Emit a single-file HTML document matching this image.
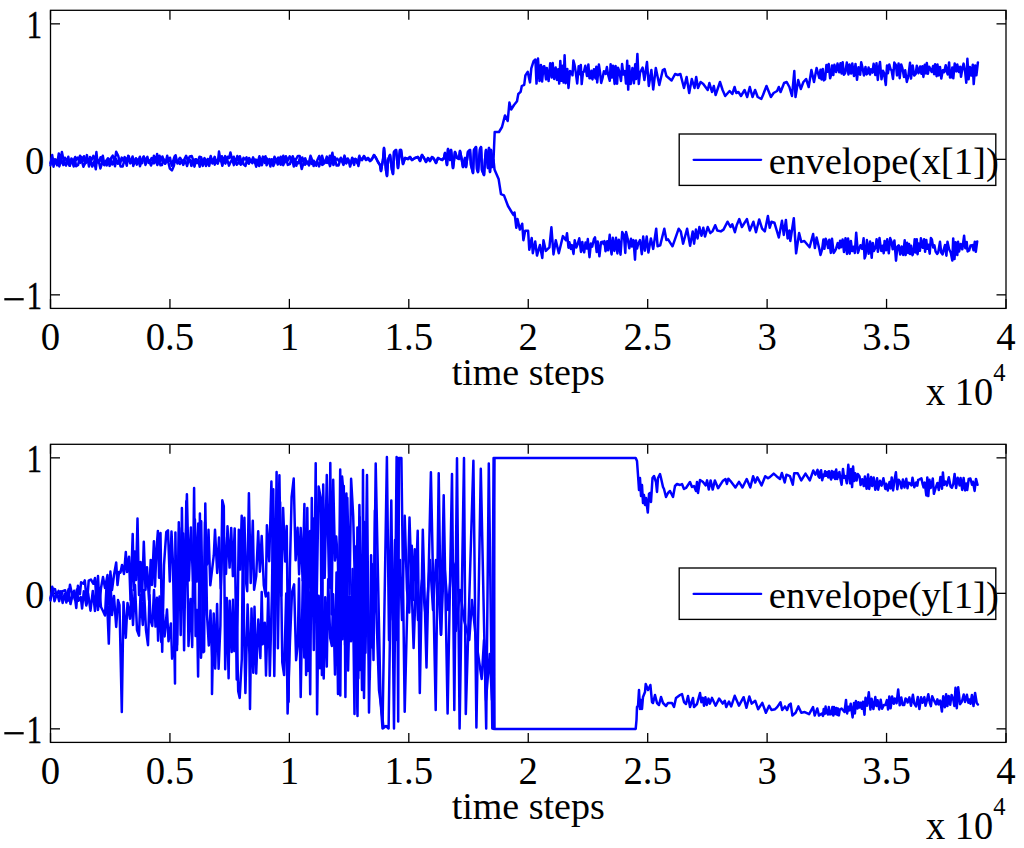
<!DOCTYPE html><html><head><meta charset="utf-8"><style>html,body{margin:0;padding:0;background:#fff;overflow:hidden}svg{display:block}</style></head><body>
<svg width="1024" height="848" viewBox="0 0 1024 848">
<rect width="1024" height="848" fill="#fff"/>
<rect x="50.5" y="10.3" width="955.5" height="298.09999999999997" fill="none" stroke="#000" stroke-width="1.3"/>
<line x1="50.50" y1="308.4" x2="50.50" y2="298.9" stroke="#000" stroke-width="1.3"/>
<line x1="50.50" y1="10.3" x2="50.50" y2="19.8" stroke="#000" stroke-width="1.3"/>
<text transform="translate(50.50,350.4) scale(1.02,1.06)" font-family="Liberation Serif" font-size="38" text-anchor="middle">0</text>
<line x1="169.94" y1="308.4" x2="169.94" y2="298.9" stroke="#000" stroke-width="1.3"/>
<line x1="169.94" y1="10.3" x2="169.94" y2="19.8" stroke="#000" stroke-width="1.3"/>
<text transform="translate(169.94,350.4) scale(1.02,1.06)" font-family="Liberation Serif" font-size="38" text-anchor="middle">0.5</text>
<line x1="289.38" y1="308.4" x2="289.38" y2="298.9" stroke="#000" stroke-width="1.3"/>
<line x1="289.38" y1="10.3" x2="289.38" y2="19.8" stroke="#000" stroke-width="1.3"/>
<text transform="translate(289.38,350.4) scale(1.02,1.06)" font-family="Liberation Serif" font-size="38" text-anchor="middle">1</text>
<line x1="408.81" y1="308.4" x2="408.81" y2="298.9" stroke="#000" stroke-width="1.3"/>
<line x1="408.81" y1="10.3" x2="408.81" y2="19.8" stroke="#000" stroke-width="1.3"/>
<text transform="translate(408.81,350.4) scale(1.02,1.06)" font-family="Liberation Serif" font-size="38" text-anchor="middle">1.5</text>
<line x1="528.25" y1="308.4" x2="528.25" y2="298.9" stroke="#000" stroke-width="1.3"/>
<line x1="528.25" y1="10.3" x2="528.25" y2="19.8" stroke="#000" stroke-width="1.3"/>
<text transform="translate(528.25,350.4) scale(1.02,1.06)" font-family="Liberation Serif" font-size="38" text-anchor="middle">2</text>
<line x1="647.69" y1="308.4" x2="647.69" y2="298.9" stroke="#000" stroke-width="1.3"/>
<line x1="647.69" y1="10.3" x2="647.69" y2="19.8" stroke="#000" stroke-width="1.3"/>
<text transform="translate(647.69,350.4) scale(1.02,1.06)" font-family="Liberation Serif" font-size="38" text-anchor="middle">2.5</text>
<line x1="767.12" y1="308.4" x2="767.12" y2="298.9" stroke="#000" stroke-width="1.3"/>
<line x1="767.12" y1="10.3" x2="767.12" y2="19.8" stroke="#000" stroke-width="1.3"/>
<text transform="translate(767.12,350.4) scale(1.02,1.06)" font-family="Liberation Serif" font-size="38" text-anchor="middle">3</text>
<line x1="886.56" y1="308.4" x2="886.56" y2="298.9" stroke="#000" stroke-width="1.3"/>
<line x1="886.56" y1="10.3" x2="886.56" y2="19.8" stroke="#000" stroke-width="1.3"/>
<text transform="translate(886.56,350.4) scale(1.02,1.06)" font-family="Liberation Serif" font-size="38" text-anchor="middle">3.5</text>
<line x1="1006.00" y1="308.4" x2="1006.00" y2="298.9" stroke="#000" stroke-width="1.3"/>
<line x1="1006.00" y1="10.3" x2="1006.00" y2="19.8" stroke="#000" stroke-width="1.3"/>
<text transform="translate(1006.00,350.4) scale(1.02,1.06)" font-family="Liberation Serif" font-size="38" text-anchor="middle">4</text>
<line x1="50.5" y1="294.85" x2="60.0" y2="294.85" stroke="#000" stroke-width="1.3"/>
<line x1="1006.0" y1="294.85" x2="996.5" y2="294.85" stroke="#000" stroke-width="1.3"/>
<rect x="4.3" y="298.1" width="19.4" height="2.3" fill="#000"/>
<text transform="translate(42,309.0) scale(0.8,1.04)" font-family="Liberation Serif" font-size="38" text-anchor="end" stroke="#000" stroke-width="0.5">1</text>
<line x1="50.5" y1="159.35" x2="60.0" y2="159.35" stroke="#000" stroke-width="1.3"/>
<line x1="1006.0" y1="159.35" x2="996.5" y2="159.35" stroke="#000" stroke-width="1.3"/>
<text transform="translate(44.5,173.9) scale(1.02,1.07)" font-family="Liberation Serif" font-size="38" text-anchor="end">0</text>
<line x1="50.5" y1="23.85" x2="60.0" y2="23.85" stroke="#000" stroke-width="1.3"/>
<line x1="1006.0" y1="23.85" x2="996.5" y2="23.85" stroke="#000" stroke-width="1.3"/>
<text transform="translate(42,38.1) scale(0.8,1.04)" font-family="Liberation Serif" font-size="38" text-anchor="end" stroke="#000" stroke-width="0.5">1</text>
<text x="528.2" y="384.9" font-family="Liberation Serif" font-size="38" text-anchor="middle">time steps</text>
<text transform="translate(926,405.1) scale(1.01,1.06)" font-family="Liberation Serif" font-size="38">x 10</text>
<text x="993.2" y="380.8" font-family="Liberation Serif" font-size="24.5">4</text>
<polyline points="50.5,163.1 52.1,157.3 53.2,159.9 55.1,159.5 56.4,163.4 57.5,162.2 58.8,153.4 60.4,161.0 61.9,151.9 63.7,160.8 64.9,157.7 67.0,161.7 68.3,156.8 69.9,165.7 71.4,158.4 73.2,161.6 75.2,157.0 76.2,160.0 77.9,157.5 80.1,162.9 81.4,157.0 82.9,161.1 84.0,156.2 85.8,163.0 87.4,159.0 88.6,162.0 90.0,157.0 91.6,159.9 93.3,155.9 95.2,161.1 96.4,152.1 97.5,162.4 98.8,162.1 100.6,157.2 101.7,161.6 102.8,155.8 104.5,165.2 106.4,160.7 108.0,158.2 109.7,161.0 111.3,157.7 112.7,155.6 114.7,161.3 116.2,151.8 118.2,155.7 120.2,163.5 121.7,157.6 123.2,160.8 124.6,157.1 126.6,159.8 128.8,156.2 130.5,163.1 132.6,156.5 133.9,162.7 135.9,158.2 137.9,161.5 139.9,156.7 141.1,162.2 142.2,163.2 143.7,156.7 145.3,161.0 147.4,156.9 148.7,162.9 150.5,160.3 151.6,158.1 152.8,160.7 153.9,155.8 156.0,161.2 157.1,153.9 158.5,162.3 159.6,155.8 160.8,160.9 162.4,156.5 164.1,161.3 165.4,163.5 167.2,155.7 168.6,161.3 170.0,157.7 171.7,165.7 173.4,160.2 174.7,156.2 175.9,162.0 178.0,160.7 180.0,157.7 182.1,161.2 184.1,159.9 186.1,155.8 187.9,160.7 189.7,156.5 191.8,156.1 193.8,161.8 195.2,159.3 196.8,160.1 198.0,161.1 199.5,156.7 201.1,157.1 202.9,162.8 204.5,158.1 206.6,163.3 207.7,158.9 208.9,162.9 210.7,156.0 212.6,162.3 214.7,156.8 216.0,162.2 217.8,162.7 219.0,151.6 220.7,161.1 221.9,156.2 223.8,161.8 225.2,156.1 226.6,160.5 227.8,156.8 229.2,158.0 230.4,152.4 232.4,160.9 233.8,156.8 235.7,163.0 237.3,156.0 238.7,161.2 239.9,156.3 241.8,163.5 243.5,157.8 245.1,159.6 246.5,157.4 248.1,162.5 249.1,157.9 251.1,162.0 253.1,157.4 254.5,160.7 255.9,159.5 257.4,163.2 259.4,156.3 261.2,162.5 262.9,156.6 264.9,162.9 266.4,158.0 268.0,160.6 269.6,159.1 271.1,161.5 272.7,163.4 274.5,156.7 276.5,161.1 278.2,157.6 279.4,162.5 280.7,156.7 282.0,162.9 283.3,155.7 284.3,163.3 285.9,156.2 287.6,160.7 289.7,156.3 291.3,160.6 292.7,156.3 294.6,161.3 296.2,158.8 297.9,155.9 299.7,156.1 301.1,163.1 302.3,157.4 303.5,161.0 305.2,158.2 306.9,163.3 308.8,163.1 310.5,155.8 312.4,160.6 313.6,166.1 315.2,163.1 316.3,165.8 317.4,159.9 319.2,156.0 321.0,163.5 322.1,155.7 323.8,162.2 325.2,161.7 326.8,156.6 328.6,162.8 329.8,155.8 330.9,160.3 332.4,152.7 333.6,161.6 334.6,157.0 335.8,159.9 337.1,158.6 339.1,161.3 340.8,157.7 342.9,162.3 344.5,155.6 346.3,162.1 347.7,158.5 348.8,161.5 350.8,162.5 352.2,157.7 353.8,160.6 355.2,158.9 357.3,163.3 359.4,155.8 360.0,158.0 362.0,160.0 364.0,156.0 366.0,160.0 368.0,158.0 370.0,161.0 372.0,159.0 374.0,155.0 376.0,158.0 378.0,162.0 380.0,165.0 381.0,171.0 382.0,165.0 383.0,160.0 384.0,148.0 386.0,170.0 387.0,176.0 388.0,160.0 390.0,155.0 392.0,170.0 393.0,174.0 394.0,152.0 396.0,150.0 398.0,168.0 400.0,150.0 401.0,150.0 403.0,164.0 405.0,158.0 408.0,159.0 410.0,157.0 412.0,160.0 415.0,158.0 418.0,157.0 420.0,161.0 422.0,155.0 424.0,158.0 426.0,162.0 428.0,158.0 430.0,161.0 432.0,157.0 434.0,159.0 436.0,163.0 438.0,158.0 440.0,159.0 442.0,160.0 444.0,158.0 445.0,153.0 447.0,165.0 448.0,149.0 450.0,160.0 451.0,150.0 453.0,168.0 455.0,152.0 457.0,158.0 459.0,159.0 460.0,151.0 462.0,161.0 463.0,167.0 465.0,158.0 466.0,167.0 468.0,152.0 470.0,150.0 471.0,165.0 473.0,173.0 474.0,150.0 476.0,147.0 477.0,169.0 478.0,172.0 480.0,149.0 481.0,147.0 482.0,170.0 484.0,175.0 485.0,160.0 486.0,150.0 488.0,168.0 489.0,148.0 490.0,172.0 491.0,150.0 492.0,167.0 493.5,160.0 494.7,132.0 498.0,132.0 499.0,132.0 502.0,127.0 505.0,115.4 507.7,121.0 509.4,102.5 511.2,109.5 514.0,105.0 517.0,101.3 518.3,94.0 520.6,91.9 521.8,86.0 524.2,84.8 525.4,75.4 527.7,71.8 530.0,82.4 531.3,68.3 533.6,61.2 535.4,59.5 536.5,83.6 538.0,58.6 539.5,81.0 540.9,64.9 542.1,81.6 543.5,66.5 544.3,66.2 546.0,79.4 546.8,67.9 548.6,81.1 550.2,63.3 551.7,77.5 552.7,63.1 554.1,79.0 555.7,67.5 556.9,79.9 558.2,69.2 559.2,83.6 560.3,60.9 561.6,80.8 562.7,65.7 563.6,82.6 564.6,55.3 565.7,83.2 567.3,68.9 568.5,88.0 570.0,71.1 571.5,72.0 572.5,75.3 573.4,60.6 574.5,64.6 575.7,71.9 577.2,83.5 578.7,66.2 579.8,74.2 580.8,64.9 581.7,84.1 583.0,72.1 583.9,71.8 585.3,65.7 587.0,76.0 588.4,64.5 589.5,78.3 590.4,78.1 591.4,70.8 592.5,79.4 593.9,69.3 595.4,78.4 596.3,66.8 597.2,82.5 598.9,64.6 600.1,72.9 601.2,82.9 602.5,78.2 603.9,71.2 605.6,73.9 606.9,67.1 608.1,74.6 609.8,80.8 610.6,64.2 611.9,77.6 613.0,65.7 614.6,83.9 615.6,66.1 617.1,83.8 618.0,67.7 619.3,71.5 621.0,81.0 622.1,64.1 623.4,74.6 624.9,71.1 626.0,83.6 627.2,60.8 628.2,89.6 629.2,66.0 630.7,84.1 632.4,68.1 633.9,83.3 635.2,64.3 636.0,79.1 637.4,53.9 638.8,83.9 640.0,72.8 642.6,67.6 644.4,80.0 647.0,62.0 648.8,86.0 651.4,70.0 653.2,89.5 655.8,68.0 659.3,85.0 662.8,70.0 664.6,69.0 666.4,76.0 671.6,80.5 675.1,74.0 677.8,75.0 680.4,74.0 684.0,88.0 686.6,77.0 689.2,93.0 691.8,79.0 694.5,88.0 696.2,77.0 698.0,88.0 700.6,82.0 703.3,84.0 707.7,90.0 709.4,83.0 712.0,92.0 713.8,86.0 715.6,95.0 720.0,82.0 722.6,90.0 725.2,96.0 729.6,91.0 732.3,94.0 734.6,87.0 736.3,93.0 738.4,92.0 741.0,96.0 744.6,90.0 747.2,97.0 749.8,87.0 752.5,97.0 755.1,90.0 757.7,97.0 761.3,99.0 763.0,95.0 766.5,86.0 770.9,97.0 773.6,93.0 777.1,91.0 778.8,87.0 780.6,92.0 784.1,83.0 786.7,82.0 789.4,87.0 792.0,96.0 794.3,71.0 795.5,97.0 798.2,80.0 800.8,89.0 803.4,82.0 806.1,79.0 808.7,87.0 811.4,70.0 814.0,82.0 816.6,68.0 819.3,78.0 820.5,69.8 821.5,79.4 822.8,69.0 823.8,80.4 825.1,79.3 826.4,65.0 827.7,71.7 828.7,64.1 830.1,78.3 831.1,75.0 832.0,65.5 833.3,75.0 834.4,64.8 836.1,72.0 837.5,63.6 839.2,72.2 840.5,63.2 841.6,73.6 842.7,62.3 843.9,74.8 845.2,73.0 846.8,62.6 848.5,74.5 849.5,64.5 851.1,73.6 852.3,63.4 854.0,76.0 855.5,63.9 857.0,79.8 858.5,67.2 860.2,74.7 861.2,62.3 862.4,67.2 863.9,75.4 865.5,67.0 866.5,74.4 867.5,73.3 868.6,67.4 870.0,74.6 870.9,69.3 872.4,72.6 873.6,63.8 875.3,75.1 876.5,63.3 877.8,79.9 879.1,66.8 880.0,62.0 881.5,79.3 883.0,70.8 884.0,72.8 885.8,85.0 887.0,65.5 887.9,73.3 889.3,64.5 890.6,69.4 891.6,70.3 893.0,78.9 894.3,62.6 895.9,64.9 897.0,75.4 898.6,63.5 899.7,78.2 901.2,64.4 902.5,68.7 904.0,77.0 905.2,70.3 906.8,81.9 908.3,76.4 910.0,62.8 911.0,78.6 912.7,65.4 914.2,75.6 915.7,74.0 916.8,65.7 918.5,73.3 920.1,66.5 921.4,73.8 922.4,66.3 923.4,76.9 924.8,64.7 925.9,73.4 926.8,63.0 927.9,73.8 929.1,66.7 930.5,69.4 931.7,71.9 933.1,66.0 934.1,74.2 935.1,64.3 936.6,76.2 937.5,64.6 938.7,75.4 940.0,67.0 941.3,78.6 942.8,70.2 944.1,72.3 945.7,65.3 946.7,71.4 947.7,74.4 949.1,62.4 950.0,77.4 951.2,77.3 952.3,67.4 953.3,78.3 954.7,63.5 956.4,71.4 957.3,64.6 958.9,72.0 960.2,66.7 961.0,76.8 962.5,67.8 963.6,63.6 965.2,72.4 966.3,82.8 967.4,58.7 968.6,79.3 969.9,67.1 971.2,75.5 972.8,64.8 973.7,84.1 975.2,65.4 976.4,75.3 977.9,62.4" fill="none" stroke="#0000ff" stroke-width="2.5" stroke-linejoin="round" stroke-linecap="round"/>
<polyline points="50.5,165.4 52.2,155.1 53.5,166.7 55.1,159.8 57.1,165.3 58.2,159.5 59.3,166.4 61.3,159.6 63.3,165.0 64.4,161.8 66.0,165.6 67.4,160.8 69.5,165.8 71.6,159.7 73.7,166.5 75.0,159.2 76.1,166.3 78.1,164.9 80.0,155.7 81.8,160.9 83.4,166.7 85.1,163.1 86.9,155.1 89.0,166.5 90.6,159.8 92.3,166.6 94.2,161.3 95.8,169.3 96.9,159.9 98.6,160.4 100.4,168.5 102.6,161.2 104.0,164.7 105.7,161.0 106.7,165.4 108.0,159.3 109.6,165.9 111.0,159.2 112.2,164.6 113.7,161.3 115.0,166.2 116.3,159.3 117.8,163.7 119.1,160.8 120.6,166.5 122.7,166.4 124.8,159.0 126.8,165.7 128.2,155.7 130.2,163.2 132.2,159.0 133.3,166.0 135.1,160.2 136.8,164.6 138.4,159.4 140.0,166.2 142.1,159.3 143.8,156.5 145.5,164.9 146.5,162.2 147.6,158.8 149.2,161.0 151.0,165.5 152.4,161.8 153.9,163.4 155.6,159.4 157.3,165.0 159.1,160.6 160.5,165.3 162.0,165.0 163.4,159.0 165.0,163.7 167.0,159.4 168.7,163.6 169.9,168.6 171.9,170.4 173.9,165.8 175.6,155.3 177.4,163.6 178.5,160.9 179.9,164.0 181.7,160.7 183.2,164.9 185.3,160.6 187.1,166.0 188.7,159.8 189.8,159.5 191.4,165.9 192.6,160.0 194.5,166.6 196.0,159.2 197.2,163.0 198.5,160.8 199.7,166.7 201.2,159.2 202.8,165.9 204.7,158.9 206.0,165.9 208.0,161.3 209.2,165.9 210.6,159.1 212.4,163.5 213.8,160.8 214.8,164.6 216.1,160.0 217.8,163.7 218.9,159.1 221.0,160.7 222.4,165.8 223.7,159.5 225.4,163.6 227.2,159.7 229.0,165.6 230.7,161.8 232.2,159.6 233.9,165.1 235.0,159.6 236.9,164.7 238.9,162.3 240.8,164.7 242.5,159.4 243.6,164.4 245.5,166.0 247.1,159.5 248.8,163.8 250.4,160.1 252.3,163.1 254.4,160.7 256.2,166.7 258.2,160.3 259.2,166.1 260.8,160.4 261.9,165.2 263.6,158.9 265.5,156.3 266.6,165.3 268.7,159.7 270.4,166.5 271.8,159.3 273.3,166.0 274.4,163.4 276.0,159.6 277.8,164.5 279.3,161.5 280.7,164.7 282.0,162.7 283.2,165.1 284.4,160.6 285.6,161.6 286.7,160.5 287.8,164.9 289.9,164.1 291.1,159.9 292.2,159.5 293.8,166.6 295.1,159.3 296.3,165.8 297.3,162.4 298.4,163.3 299.6,158.8 301.7,169.1 303.8,162.0 305.0,164.8 307.1,161.6 309.0,165.4 310.5,161.3 311.9,163.9 313.7,160.7 315.6,163.0 317.4,162.0 319.1,166.4 321.2,159.5 322.3,164.9 324.0,163.6 325.3,162.3 327.0,162.9 328.2,160.1 330.0,166.1 331.2,162.1 332.3,158.8 333.4,165.1 335.1,159.8 336.6,165.6 338.5,165.5 340.2,160.4 341.6,160.3 343.5,164.9 344.8,160.8 346.3,163.5 348.4,159.6 350.1,166.6 352.2,159.0 354.1,164.9 355.5,158.9 357.3,161.1 358.4,166.0 359.8,159.5 360.0,158.0 362.0,160.0 364.0,156.0 366.0,160.0 368.0,158.0 370.0,161.0 372.0,159.0 374.0,155.0 376.0,158.0 378.0,162.0 380.0,165.0 381.0,171.0 382.0,165.0 383.0,160.0 384.0,148.0 386.0,170.0 387.0,176.0 388.0,160.0 390.0,155.0 392.0,170.0 393.0,174.0 394.0,152.0 396.0,150.0 398.0,168.0 400.0,150.0 401.0,150.0 403.0,164.0 405.0,158.0 408.0,159.0 410.0,157.0 412.0,160.0 415.0,158.0 418.0,157.0 420.0,161.0 422.0,155.0 424.0,158.0 426.0,162.0 428.0,158.0 430.0,161.0 432.0,157.0 434.0,159.0 436.0,163.0 438.0,158.0 440.0,159.0 442.0,160.0 444.0,158.0 445.0,153.0 447.0,165.0 448.0,149.0 450.0,160.0 451.0,150.0 453.0,168.0 455.0,152.0 457.0,158.0 459.0,159.0 460.0,151.0 462.0,161.0 463.0,167.0 465.0,158.0 466.0,167.0 468.0,152.0 470.0,150.0 471.0,165.0 473.0,173.0 474.0,150.0 476.0,147.0 477.0,169.0 478.0,172.0 480.0,149.0 481.0,147.0 482.0,170.0 484.0,175.0 485.0,160.0 486.0,150.0 488.0,168.0 489.0,148.0 490.0,172.0 491.0,150.0 492.0,167.0 493.5,160.0 494.5,169.4 498.6,178.9 501.0,194.2 504.0,195.4 508.0,206.0 511.6,212.0 513.4,214.9 514.5,212.5 516.3,227.8 517.5,219.0 519.9,229.6 522.2,223.7 523.4,240.2 525.2,230.8 528.1,230.8 529.3,249.7 531.7,237.9 532.8,253.2 535.2,241.4 537.0,255.6 539.9,245.0 542.3,258.0 543.5,240.2 545.8,250.9 549.4,247.3 551.4,227.3 553.5,254.4 555.8,240.2 558.8,253.2 562.9,236.1 565.9,240.2 567.0,233.2 568.5,247.7 569.4,242.3 570.9,248.9 571.9,245.1 573.5,253.9 574.7,240.3 576.3,247.5 577.6,244.2 579.3,238.3 581.0,251.9 582.3,242.0 583.3,249.5 584.2,252.3 585.5,242.6 586.7,248.5 587.8,239.1 589.5,257.2 590.9,243.5 592.2,246.7 593.9,239.2 595.0,237.3 596.7,252.0 597.7,241.5 599.4,256.3 601.0,242.2 602.7,241.7 603.6,244.0 604.5,241.1 605.5,251.2 607.2,241.2 608.1,250.3 609.7,234.8 610.7,248.6 611.6,254.4 612.8,237.8 614.4,250.9 616.0,237.8 617.4,253.4 618.8,239.7 620.5,254.7 622.2,232.0 623.9,235.2 625.3,253.0 626.1,232.1 627.7,238.7 629.3,248.3 631.0,238.8 631.9,246.5 633.5,240.1 635.0,259.7 636.0,240.6 637.1,248.6 638.0,244.6 640.0,240.1 641.8,254.2 643.2,236.6 644.9,250.7 646.7,236.6 648.4,252.5 650.9,238.4 653.2,248.9 656.2,228.7 657.6,246.3 660.2,245.4 664.3,228.7 666.4,240.1 668.1,239.3 672.5,246.3 678.7,228.7 680.8,231.4 683.1,243.7 687.1,228.7 690.1,245.8 692.7,231.4 694.1,243.7 695.9,229.6 697.6,238.4 699.4,227.0 701.5,235.8 703.3,227.8 705.0,236.6 707.7,227.0 710.3,233.1 712.4,231.4 715.2,225.2 717.3,230.5 720.8,231.4 723.5,229.6 727.5,221.7 730.5,227.0 732.3,224.3 734.9,232.2 736.7,225.2 739.3,219.1 741.9,227.0 746.9,219.1 749.8,230.5 753.4,221.7 756.0,232.2 759.2,219.4 762.1,228.7 764.8,231.4 767.9,215.9 769.7,227.8 771.5,221.7 774.4,222.6 778.8,237.5 782.0,220.8 783.8,234.9 785.9,219.9 787.6,238.4 789.4,230.5 790.3,241.0 793.8,218.2 796.1,253.3 799.1,233.1 801.3,241.9 804.3,241.0 809.6,247.2 813.1,234.0 814.9,248.1 816.6,237.5 819.3,248.9 820.5,254.9 822.1,249.3 823.4,239.6 824.4,248.8 825.7,238.7 826.8,241.6 828.1,248.0 829.3,239.8 830.8,252.9 832.0,238.7 833.6,252.9 835.1,250.8 836.1,248.7 837.7,243.1 839.1,248.2 840.1,240.7 841.0,247.3 842.6,239.5 844.0,252.0 845.5,238.2 847.0,254.0 848.1,238.6 849.7,253.7 850.9,240.9 852.1,251.1 853.3,246.8 854.8,253.0 856.2,232.7 857.9,252.9 859.0,249.5 860.5,245.2 862.2,248.9 863.6,238.3 864.6,258.4 865.5,255.9 866.9,240.1 868.6,253.8 870.1,241.6 871.7,257.8 872.8,242.9 873.9,251.0 875.6,247.3 876.6,239.2 877.9,251.8 879.5,238.0 881.2,250.9 882.6,245.7 883.7,253.2 884.6,240.9 886.0,250.3 887.2,239.3 888.8,253.3 890.2,238.1 891.6,242.0 892.7,249.3 894.4,240.4 896.0,260.7 897.4,246.7 898.7,245.3 900.2,254.6 901.6,246.5 903.1,254.9 904.7,240.3 905.6,255.1 907.1,242.8 908.2,253.0 909.1,244.1 910.1,254.1 911.1,245.8 912.5,255.2 913.7,251.6 914.7,239.2 915.8,252.6 916.8,239.2 917.6,254.2 918.5,243.5 919.9,250.8 920.9,238.3 922.7,247.8 924.1,239.2 925.1,251.8 926.3,240.0 927.2,248.8 928.5,244.8 929.7,253.7 930.9,238.1 931.9,239.4 933.2,247.6 934.4,245.3 935.6,251.5 937.1,253.9 938.2,252.5 940.0,241.8 941.3,252.8 942.6,254.4 943.6,250.1 945.0,245.0 946.4,255.7 947.5,241.7 949.1,249.3 950.8,252.8 952.3,260.6 953.2,238.4 954.5,259.1 955.6,242.2 957.3,255.1 958.1,241.8 959.1,251.4 960.7,243.9 962.3,249.3 964.1,235.7 965.3,248.2 966.7,241.9 967.6,251.4 969.2,250.5 970.5,245.5 972.3,245.1 973.5,250.3 974.8,241.7 975.8,251.8 977.2,241.4" fill="none" stroke="#0000ff" stroke-width="2.5" stroke-linejoin="round" stroke-linecap="round"/>
<rect x="679.2" y="134.0" width="316.6" height="51.4" fill="#fff" stroke="#000" stroke-width="1.35"/>
<line x1="693.6" y1="159.8" x2="761.2" y2="159.8" stroke="#0000ff" stroke-width="2.2" stroke-linecap="round"/>
<text x="768.8" y="173.5" font-family="Liberation Serif" font-size="38" textLength="230" lengthAdjust="spacingAndGlyphs">envelope(x[1])</text>
<rect x="50.5" y="444.3" width="955.5" height="298.09999999999997" fill="none" stroke="#000" stroke-width="1.3"/>
<line x1="50.50" y1="742.4" x2="50.50" y2="732.9" stroke="#000" stroke-width="1.3"/>
<line x1="50.50" y1="444.3" x2="50.50" y2="453.8" stroke="#000" stroke-width="1.3"/>
<text transform="translate(50.50,784.4) scale(1.02,1.06)" font-family="Liberation Serif" font-size="38" text-anchor="middle">0</text>
<line x1="169.94" y1="742.4" x2="169.94" y2="732.9" stroke="#000" stroke-width="1.3"/>
<line x1="169.94" y1="444.3" x2="169.94" y2="453.8" stroke="#000" stroke-width="1.3"/>
<text transform="translate(169.94,784.4) scale(1.02,1.06)" font-family="Liberation Serif" font-size="38" text-anchor="middle">0.5</text>
<line x1="289.38" y1="742.4" x2="289.38" y2="732.9" stroke="#000" stroke-width="1.3"/>
<line x1="289.38" y1="444.3" x2="289.38" y2="453.8" stroke="#000" stroke-width="1.3"/>
<text transform="translate(289.38,784.4) scale(1.02,1.06)" font-family="Liberation Serif" font-size="38" text-anchor="middle">1</text>
<line x1="408.81" y1="742.4" x2="408.81" y2="732.9" stroke="#000" stroke-width="1.3"/>
<line x1="408.81" y1="444.3" x2="408.81" y2="453.8" stroke="#000" stroke-width="1.3"/>
<text transform="translate(408.81,784.4) scale(1.02,1.06)" font-family="Liberation Serif" font-size="38" text-anchor="middle">1.5</text>
<line x1="528.25" y1="742.4" x2="528.25" y2="732.9" stroke="#000" stroke-width="1.3"/>
<line x1="528.25" y1="444.3" x2="528.25" y2="453.8" stroke="#000" stroke-width="1.3"/>
<text transform="translate(528.25,784.4) scale(1.02,1.06)" font-family="Liberation Serif" font-size="38" text-anchor="middle">2</text>
<line x1="647.69" y1="742.4" x2="647.69" y2="732.9" stroke="#000" stroke-width="1.3"/>
<line x1="647.69" y1="444.3" x2="647.69" y2="453.8" stroke="#000" stroke-width="1.3"/>
<text transform="translate(647.69,784.4) scale(1.02,1.06)" font-family="Liberation Serif" font-size="38" text-anchor="middle">2.5</text>
<line x1="767.12" y1="742.4" x2="767.12" y2="732.9" stroke="#000" stroke-width="1.3"/>
<line x1="767.12" y1="444.3" x2="767.12" y2="453.8" stroke="#000" stroke-width="1.3"/>
<text transform="translate(767.12,784.4) scale(1.02,1.06)" font-family="Liberation Serif" font-size="38" text-anchor="middle">3</text>
<line x1="886.56" y1="742.4" x2="886.56" y2="732.9" stroke="#000" stroke-width="1.3"/>
<line x1="886.56" y1="444.3" x2="886.56" y2="453.8" stroke="#000" stroke-width="1.3"/>
<text transform="translate(886.56,784.4) scale(1.02,1.06)" font-family="Liberation Serif" font-size="38" text-anchor="middle">3.5</text>
<line x1="1006.00" y1="742.4" x2="1006.00" y2="732.9" stroke="#000" stroke-width="1.3"/>
<line x1="1006.00" y1="444.3" x2="1006.00" y2="453.8" stroke="#000" stroke-width="1.3"/>
<text transform="translate(1006.00,784.4) scale(1.02,1.06)" font-family="Liberation Serif" font-size="38" text-anchor="middle">4</text>
<line x1="50.5" y1="728.85" x2="60.0" y2="728.85" stroke="#000" stroke-width="1.3"/>
<line x1="1006.0" y1="728.85" x2="996.5" y2="728.85" stroke="#000" stroke-width="1.3"/>
<rect x="4.3" y="732.1" width="19.4" height="2.3" fill="#000"/>
<text transform="translate(42,743.1) scale(0.8,1.04)" font-family="Liberation Serif" font-size="38" text-anchor="end" stroke="#000" stroke-width="0.5">1</text>
<line x1="50.5" y1="593.35" x2="60.0" y2="593.35" stroke="#000" stroke-width="1.3"/>
<line x1="1006.0" y1="593.35" x2="996.5" y2="593.35" stroke="#000" stroke-width="1.3"/>
<text transform="translate(44.5,608.0) scale(1.02,1.07)" font-family="Liberation Serif" font-size="38" text-anchor="end">0</text>
<line x1="50.5" y1="457.85" x2="60.0" y2="457.85" stroke="#000" stroke-width="1.3"/>
<line x1="1006.0" y1="457.85" x2="996.5" y2="457.85" stroke="#000" stroke-width="1.3"/>
<text transform="translate(42,472.1) scale(0.8,1.04)" font-family="Liberation Serif" font-size="38" text-anchor="end" stroke="#000" stroke-width="0.5">1</text>
<text x="528.2" y="818.9" font-family="Liberation Serif" font-size="38" text-anchor="middle">time steps</text>
<text transform="translate(926,839.1) scale(1.01,1.06)" font-family="Liberation Serif" font-size="38">x 10</text>
<text x="993.2" y="814.8" font-family="Liberation Serif" font-size="24.5">4</text>
<polyline points="50.5,598.2 53.1,588.6 55.1,589.2 56.5,596.3 58.6,590.9 61.2,595.7 62.7,591.2 65.2,590.2 67.8,600.8 70.0,584.7 72.6,597.1 74.1,590.8 76.3,608.0 77.9,585.8 79.9,594.2 81.1,582.2 83.5,583.7 84.8,580.4 87.0,603.4 88.7,580.7 90.9,579.5 93.4,583.8 95.0,578.0 96.5,602.0 98.0,576.0 99.5,606.0 101.0,588.0 103.0,577.0 105.0,588.0 107.5,575.0 108.5,604.0 110.0,580.0 110.4,571.6 112.0,590.0 114.0,575.0 116.2,562.5 117.5,585.0 119.0,572.0 120.5,572.6 122.0,565.0 124.0,574.0 125.8,552.0 127.0,572.0 129.0,556.7 130.5,600.0 132.7,533.9 133.8,590.0 134.8,551.4 136.0,580.0 137.5,518.5 139.0,595.0 140.6,562.0 142.0,600.0 143.8,541.8 145.5,590.0 147.0,567.3 149.0,600.0 150.7,559.9 152.0,585.0 153.9,541.3 155.0,586.4 156.5,549.3 157.9,530.9 159.1,577.7 160.5,533.0 162.2,651.7 164.0,565.2 166.3,531.9 168.0,530.4 169.8,581.4 171.5,531.5 173.0,564.2 175.0,683.5 175.4,532.4 177.0,645.0 179.2,528.0 181.2,579.4 183.2,533.4 185.1,583.0 186.9,494.2 188.9,580.4 190.9,527.4 193.0,581.2 194.9,519.4 196.7,581.6 198.3,523.4 199.6,576.0 201.2,521.2 203.2,652.2 205.0,522.2 206.1,565.4 207.4,563.6 208.5,529.8 210.3,585.3 211.8,572.2 213.8,555.2 215.0,529.8 217.2,572.9 219.0,537.5 220.7,588.5 222.2,548.9 223.9,537.0 226.0,574.0 227.5,526.2 229.6,567.6 231.2,527.9 232.9,576.1 234.7,528.4 236.7,679.4 238.8,529.8 240.1,569.5 241.7,515.8 242.9,570.0 244.4,517.7 245.9,581.1 247.2,591.2 248.9,493.2 250.7,583.0 252.8,520.7 254.1,589.7 256.2,576.1 258.2,531.3 259.9,571.7 261.7,536.0 263.8,585.4 265.8,596.6 266.9,525.3 269.2,561.2 271.4,481.5 272.7,553.6 274.3,675.9 276.3,529.9 277.8,579.9 279.4,475.3 281.2,595.8 283.1,507.9 285.2,561.5 286.7,526.0 288.6,701.8 289.9,568.4 291.6,497.2 293.7,478.6 295.6,560.3 297.6,527.8 299.1,574.3 300.7,528.0 302.6,580.2 304.4,504.1 306.1,674.9 307.3,507.9 308.4,601.2 310.1,531.1 311.4,580.2 312.8,518.3 314.3,586.0 316.6,606.2 318.6,486.6 320.6,497.3 321.9,674.9 323.2,484.5 324.7,577.7 326.8,475.0 329.2,587.6 330.3,463.1 331.6,614.2 333.2,479.7 335.0,560.4 336.2,536.5 337.9,560.6 340.3,695.6 342.1,476.5 344.0,499.3 345.4,696.9 347.3,497.9 349.6,594.6 351.1,478.7 353.2,516.0 354.5,568.0 355.0,620.0 357.5,716.0 359.4,505.0 362.0,690.0 363.0,470.0 364.0,698.0 367.0,475.0 369.0,712.6 371.8,564.0 373.5,660.0 375.7,463.5 380.5,700.0 382.5,728.5 386.9,457.0 389.0,640.0 391.3,500.6 394.0,728.5 396.6,457.0 398.2,721.4 398.9,458.0 401.4,458.0 404.7,711.7 409.5,517.5 413.6,648.0 417.7,530.7 419.8,693.0 422.8,529.8 426.5,667.5 430.9,472.3 435.7,710.0 438.7,473.2 441.0,634.7 443.7,495.3 447.6,713.5 452.0,474.0 454.3,710.0 457.0,458.2 459.6,728.5 464.0,458.0 465.8,714.0 473.4,460.8 476.4,727.6 480.8,468.8 486.2,728.5 488.8,463.5 492.3,728.5 493.6,728.9 494.5,457.9 635.7,457.9 637.0,461.0 638.0,475.0 639.0,490.0 640.0,478.0 641.0,496.0 642.0,485.0 643.0,503.0 644.0,495.0 645.0,505.0 646.0,498.0 647.8,512.6 649.0,494.0 650.0,493.0 651.0,502.0 652.5,478.0 654.0,476.0 656.0,482.0 657.0,492.0 658.0,478.0 660.0,474.0 661.0,478.0 663.0,487.0 664.0,489.0 666.0,497.0 668.0,493.0 670.0,491.0 673.0,497.0 675.0,486.0 677.0,484.0 680.0,485.0 682.0,484.0 684.0,489.0 686.0,488.0 688.0,485.0 690.0,482.0 692.0,487.0 694.0,486.0 696.0,491.0 697.0,482.0 698.0,493.0 700.0,480.0 702.8,481.8 705.7,485.4 707.1,480.4 708.8,489.6 710.6,480.4 712.7,489.6 714.9,480.4 718.1,488.2 722.7,481.1 725.5,479.0 726.9,484.0 728.3,478.7 730.5,481.1 735.4,487.5 739.0,481.8 742.5,487.5 746.7,479.0 750.3,487.5 753.1,476.2 755.2,482.5 757.4,477.3 761.6,485.4 765.2,476.2 768.0,478.3 770.1,476.9 773.7,473.6 776.5,476.2 780.0,479.0 781.9,473.0 784.7,482.5 786.4,474.7 789.9,476.2 792.8,484.7 794.2,473.3 797.7,473.3 801.3,480.4 805.5,473.6 809.8,480.4 813.3,470.5 815.4,474.7 817.6,469.8 818.5,476.5 819.5,477.7 820.2,471.9 821.1,470.2 822.2,480.3 823.6,474.4 824.3,476.2 825.1,471.2 826.1,475.8 827.3,472.0 828.2,477.4 829.0,471.3 830.2,477.3 831.1,479.5 831.8,470.9 833.1,477.4 834.1,471.8 835.1,479.1 836.2,469.5 837.2,479.1 837.9,473.8 838.7,477.1 839.4,471.9 840.6,480.0 841.6,484.7 843.0,468.9 844.1,477.8 845.3,476.0 846.8,483.3 848.3,464.8 850.1,483.4 851.1,468.9 852.1,487.1 853.1,466.5 854.2,481.1 855.2,473.2 856.6,480.6 857.8,474.1 859.6,476.6 860.6,485.0 862.2,479.3 863.8,486.1 864.9,476.5 866.6,488.8 868.1,474.5 869.2,488.9 871.1,477.1 872.2,486.0 873.7,477.6 875.3,489.8 877.1,478.3 878.1,489.7 880.0,480.8 881.6,485.6 883.4,478.2 885.3,488.9 886.3,483.8 887.8,490.6 889.5,482.1 890.6,488.4 891.7,477.5 893.1,490.4 894.5,479.9 895.9,472.2 897.3,489.3 898.7,479.8 900.1,481.9 901.5,488.3 902.9,479.4 904.5,487.6 906.3,478.8 907.5,488.3 908.5,482.8 909.7,483.2 911.5,485.4 912.5,477.7 914.3,487.2 916.1,482.5 917.3,485.7 918.2,479.8 919.5,479.3 921.4,478.3 922.5,483.6 923.6,487.4 924.7,482.6 926.3,495.4 927.3,477.4 928.3,496.1 929.5,479.8 930.6,488.1 931.6,484.6 932.8,478.5 933.9,493.8 935.6,488.2 937.4,483.0 938.8,490.0 940.4,477.1 942.0,488.8 942.9,472.4 944.0,484.9 945.6,481.6 946.9,485.5 948.8,477.2 950.6,486.6 951.9,487.7 953.3,483.9 954.6,474.0 956.1,488.1 957.7,477.7 959.6,485.4 960.6,478.0 962.2,489.9 963.6,478.0 965.1,490.4 966.2,483.6 967.2,490.0 968.7,479.0 970.4,478.5 972.0,484.7 973.0,481.7 974.6,490.9 976.0,478.9 977.5,484.8" fill="none" stroke="#0000ff" stroke-width="2.5" stroke-linejoin="round" stroke-linecap="round"/>
<polyline points="50.5,600.5 52.2,586.8 54.5,601.2 57.0,592.8 59.2,601.1 60.9,591.2 62.6,602.9 64.6,594.0 66.3,602.5 68.5,589.2 70.5,604.1 73.2,592.3 74.9,599.7 76.9,589.6 78.4,600.8 80.8,597.0 82.1,608.5 83.8,591.3 86.3,605.5 88.1,593.3 90.5,610.7 92.8,590.9 95.0,611.0 96.5,584.0 98.0,610.0 99.5,590.0 101.0,607.0 103.0,611.0 105.0,615.5 106.5,586.0 108.8,643.6 110.5,582.0 112.0,615.0 114.0,596.0 116.2,627.0 118.0,600.0 119.5,605.0 121.8,712.0 123.5,602.0 125.8,637.8 127.5,603.0 130.0,618.7 131.5,590.0 133.0,625.0 135.0,585.0 137.0,630.0 139.0,635.6 140.5,595.0 142.8,625.0 144.0,590.0 146.0,630.0 148.0,645.2 149.5,595.0 150.5,620.0 152.3,626.0 154.0,590.0 155.5,626.6 157.0,597.8 158.1,640.6 159.6,596.4 161.3,641.9 163.0,614.6 164.6,636.5 167.0,609.5 168.5,641.3 170.9,623.4 172.1,658.6 174.1,651.4 175.4,598.9 177.0,650.1 178.8,522.2 180.7,635.1 181.9,507.9 184.1,650.2 186.3,501.3 188.5,646.0 190.5,599.0 192.2,646.9 194.1,488.0 195.6,635.9 197.0,610.0 198.1,676.4 199.9,513.6 201.0,657.7 202.9,623.0 204.1,651.6 205.3,503.5 207.0,614.8 208.8,645.4 210.5,610.6 211.9,657.4 212.0,694.0 213.7,613.6 215.2,668.5 217.1,604.1 218.6,668.7 220.4,625.6 222.3,500.3 223.8,506.3 225.2,669.2 226.8,598.1 228.6,678.2 229.7,600.8 231.7,652.0 233.0,599.8 234.3,651.1 236.2,601.6 238.2,691.3 239.7,697.9 241.8,659.0 243.0,525.8 244.0,625.0 245.4,692.9 247.6,604.4 249.4,654.1 250.0,709.0 251.5,608.6 253.3,672.7 254.5,606.7 256.2,673.5 258.3,619.6 260.4,657.9 261.7,592.0 262.8,644.2 264.8,622.7 266.0,675.5 268.3,592.7 269.8,675.8 272.0,591.1 273.3,489.2 274.6,645.6 276.6,472.1 277.9,648.3 280.1,502.3 282.3,662.6 284.1,675.1 286.2,593.5 287.6,713.5 290.0,640.4 292.0,592.2 294.1,584.4 296.1,660.2 297.8,643.4 299.0,578.6 300.7,697.0 302.8,580.6 304.3,657.4 306.5,575.1 307.7,671.0 308.9,592.4 310.2,694.3 311.8,498.0 313.8,649.9 315.7,463.3 317.1,714.3 318.7,595.8 320.0,668.2 321.9,582.0 323.7,678.5 325.2,597.2 326.8,666.6 328.2,579.3 330.2,638.0 331.9,646.0 333.1,594.3 335.0,674.5 336.5,572.6 338.0,694.0 340.2,469.5 342.5,639.3 343.8,485.9 345.1,644.9 346.4,493.6 348.1,670.4 349.7,596.6 351.0,641.3 352.6,569.1 354.5,713.9 355.5,546.5 356.4,653.7 357.4,527.5 358.3,678.2 359.6,517.3 360.5,670.0 361.5,570.8 362.8,666.3 364.5,521.9 365.5,652.7 366.8,567.3 368.1,624.6 369.8,678.9 371.1,555.2 372.6,647.7 373.9,611.9 374.9,510.6 376.0,600.0 379.0,690.0 381.0,705.0 383.5,728.0 386.0,726.0 388.6,728.5 391.0,560.0 393.0,620.0 395.0,540.0 397.0,640.0 400.0,560.0 402.0,620.0 404.7,515.7 407.0,590.0 409.2,612.6 411.8,545.8 413.0,600.0 414.8,549.3 418.0,620.0 422.0,580.0 426.0,620.0 430.0,560.0 433.0,610.0 436.0,560.0 439.0,600.0 441.0,634.7 444.0,560.0 448.0,610.0 452.0,560.0 455.2,568.0 456.0,631.0 460.0,590.0 464.0,620.0 469.3,640.0 472.0,600.0 476.0,640.0 481.7,679.0 484.0,640.0 486.0,700.0 489.7,654.0 492.0,700.0 493.6,457.9 494.5,728.9 635.7,728.9 636.5,720.0 637.0,707.0 638.0,706.0 639.0,690.0 640.0,709.0 641.0,700.0 642.0,709.0 643.0,697.0 645.0,692.0 645.7,684.0 648.0,690.0 650.4,685.0 652.0,702.0 653.0,703.0 655.0,695.0 657.0,703.0 659.0,705.0 661.0,697.0 663.0,703.0 666.0,706.0 668.0,703.0 672.0,703.0 674.0,707.0 676.0,698.0 680.0,695.0 682.0,694.0 684.0,702.0 686.0,704.0 688.0,696.0 690.0,707.0 693.0,698.0 694.0,707.0 697.0,704.0 700.0,693.0 701.4,702.2 702.8,697.9 704.0,705.7 705.4,697.2 706.8,705.0 708.5,698.6 709.9,703.6 712.0,697.9 715.6,705.7 719.1,698.6 722.7,703.6 724.8,700.7 726.2,707.1 729.0,701.5 731.2,706.4 734.7,695.8 739.0,705.7 743.6,697.2 746.5,707.8 749.3,696.5 751.7,703.6 755.2,700.7 758.1,709.2 762.3,702.9 765.9,712.8 769.1,705.7 771.5,710.0 775.1,709.2 777.2,707.1 780.5,702.2 782.2,710.0 785.0,706.4 787.1,710.0 789.0,705.0 790.7,703.6 792.4,715.6 795.6,712.8 798.4,706.4 801.3,712.8 804.8,712.1 809.1,714.2 813.0,707.1 814.7,715.6 817.3,708.5 819.0,715.6 821.8,713.5 823.0,715.9 823.7,709.1 824.8,713.9 825.6,706.6 826.3,713.0 827.2,709.9 827.9,714.6 828.8,707.1 830.0,714.4 831.3,714.0 832.4,707.0 833.3,715.6 834.0,707.1 835.3,714.1 836.3,707.9 837.3,714.9 837.9,708.6 838.9,715.4 839.8,709.6 841.6,708.5 844.5,712.0 846.0,699.9 847.1,713.5 848.4,706.8 849.4,710.4 850.7,703.7 852.6,717.4 854.0,702.9 854.9,713.5 855.9,701.0 857.4,708.6 858.4,702.3 859.4,707.5 860.5,702.7 861.8,708.7 862.9,701.8 864.5,714.8 865.5,697.7 867.1,705.7 868.8,692.3 870.4,709.6 871.6,698.8 873.4,709.0 875.3,697.1 876.4,705.9 877.6,700.3 879.2,709.4 880.7,699.7 882.1,708.8 883.8,705.0 885.5,704.9 886.9,700.1 888.1,709.5 889.3,696.4 890.6,708.3 892.1,696.6 893.8,703.7 894.8,698.6 896.6,703.2 898.2,689.5 899.7,705.3 901.3,697.4 902.6,704.9 904.2,705.0 905.5,698.4 906.6,699.4 907.6,702.5 909.4,697.4 911.0,705.8 912.9,694.8 914.2,703.4 916.0,706.4 917.8,697.0 919.4,709.0 921.1,697.2 922.5,702.8 924.4,697.1 925.5,705.8 927.0,700.1 928.3,694.2 929.8,702.8 930.9,706.1 932.2,696.2 934.1,700.7 936.0,704.3 937.4,699.4 938.6,704.4 940.2,700.6 941.9,711.6 943.2,696.3 944.9,707.2 946.1,694.2 947.4,706.1 948.7,696.0 950.2,704.7 951.6,694.9 953.3,699.7 954.4,706.0 955.5,687.8 956.8,708.2 958.2,687.3 960.0,704.2 961.9,701.5 963.7,694.5 965.1,701.9 966.9,694.7 968.4,702.7 969.4,699.5 970.5,703.8 971.9,695.0 973.5,706.0 975.1,693.0 976.7,703.0 977.9,704.5" fill="none" stroke="#0000ff" stroke-width="2.5" stroke-linejoin="round" stroke-linecap="round"/>
<rect x="679.2" y="568.0" width="316.6" height="51.4" fill="#fff" stroke="#000" stroke-width="1.35"/>
<line x1="693.6" y1="593.9" x2="761.2" y2="593.9" stroke="#0000ff" stroke-width="2.2" stroke-linecap="round"/>
<text x="768.8" y="607.6" font-family="Liberation Serif" font-size="38" textLength="230" lengthAdjust="spacingAndGlyphs">envelope(y[1])</text>
</svg></body></html>
